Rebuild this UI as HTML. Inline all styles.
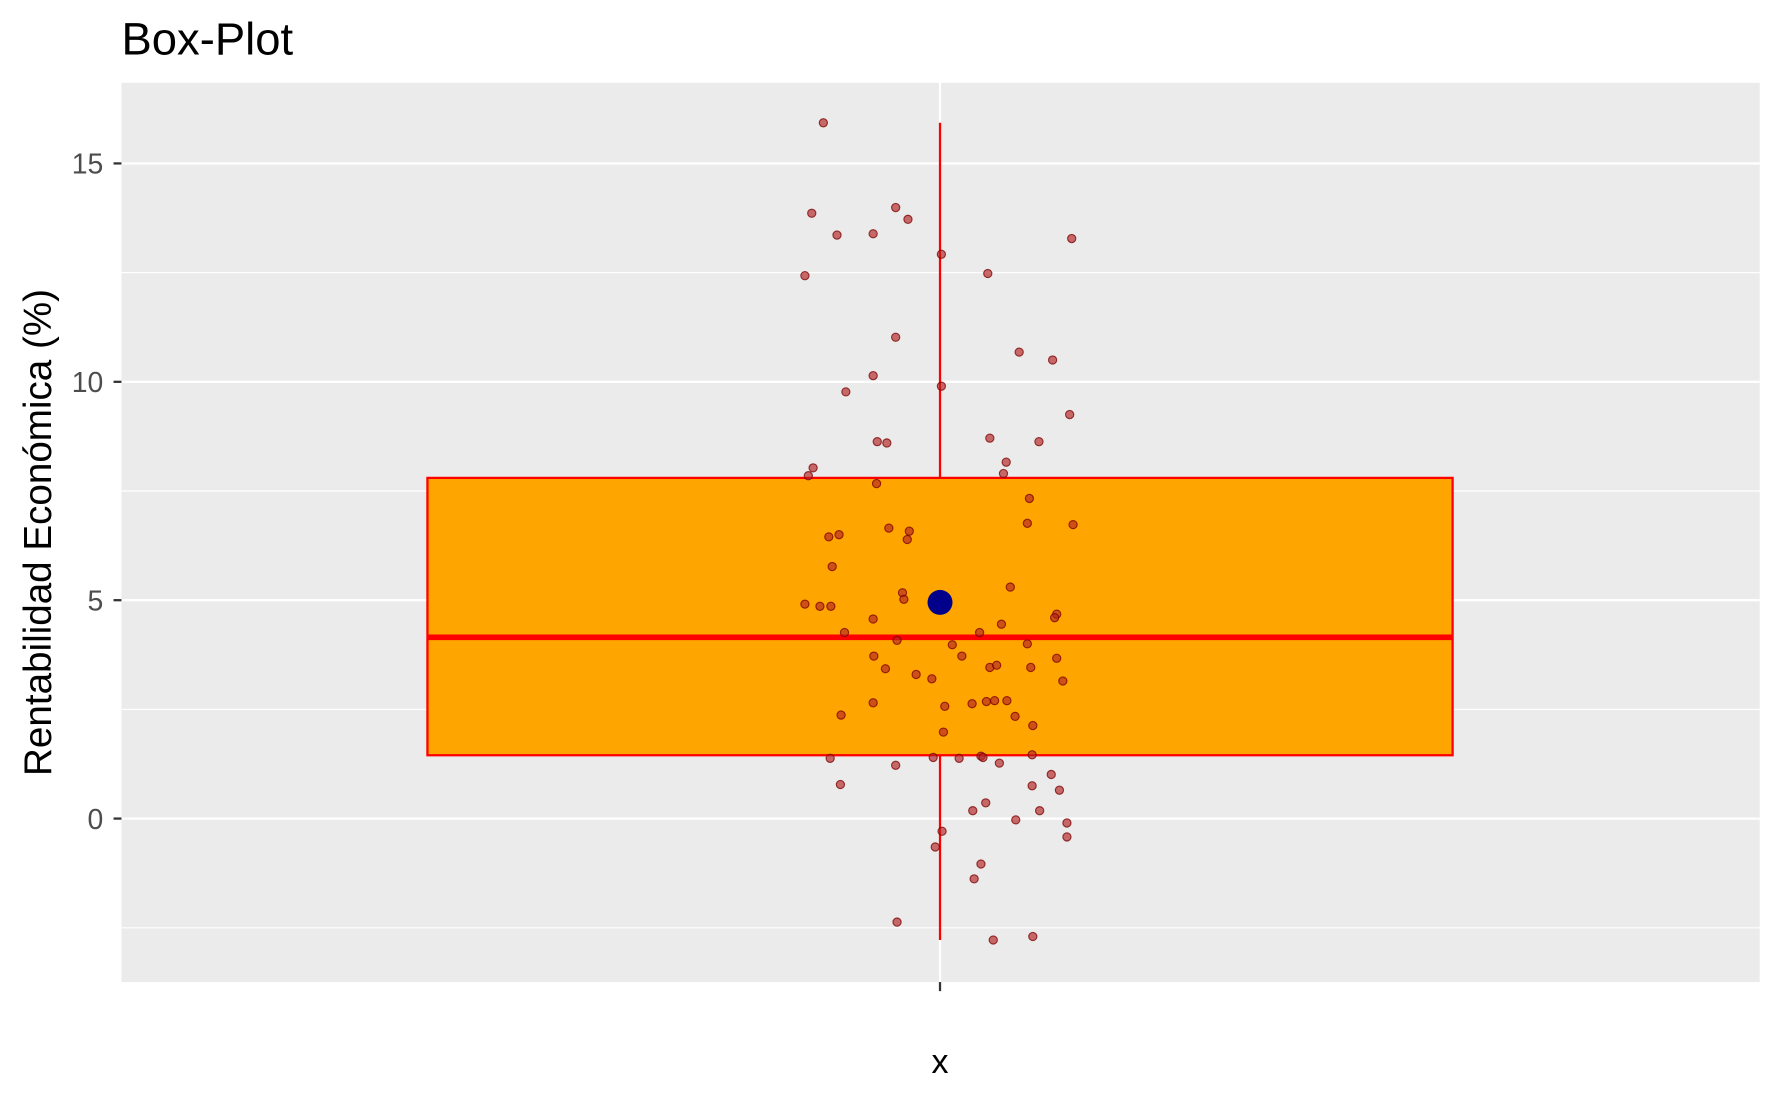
<!DOCTYPE html>
<html><head><meta charset="utf-8"><style>
html,body{margin:0;padding:0;background:#fff;}
svg{display:block;}
text{font-family:"Liberation Sans",Arial,sans-serif;}
</style></head><body>
<svg id="chart" width="1779" height="1099" viewBox="0 0 1567 968" preserveAspectRatio="none" xmlns="http://www.w3.org/2000/svg"></svg>
<script>
const yTicks=[0,5,10,15];
const yTickLabels=["0","5","10","15"];
const yMinor=[-2.5,2.5,7.5,12.5];
const categories=["x"];
const boxStats=[-2.78,1.45,4.15,7.8,15.93]; // min,q1,median,q3,max
const meanValue=4.95;
const pointValues=[15.93,13.86,13.36,13.39,13.99,13.72,13.28,12.43,12.92,12.48,11.02,10.68,10.50,10.14,9.77,9.90,9.25,8.63,8.60,8.71,8.63,8.16,8.03,7.85,7.90,7.67,7.33,6.45,6.50,6.65,6.58,6.39,6.76,6.73,5.77,5.17,5.02,4.91,4.86,4.86,5.30,4.57,4.68,4.60,4.45,4.26,4.26,4.08,3.98,4.00,3.72,3.72,3.67,3.43,3.46,3.51,3.46,3.30,3.20,3.15,2.57,2.65,2.63,2.68,2.70,2.70,2.37,2.34,2.13,1.98,1.38,1.40,1.38,1.43,1.40,1.46,1.22,1.27,1.01,0.78,0.75,0.65,0.36,0.18,0.18,-0.03,-0.10,-0.29,-0.42,-0.65,-1.04,-1.38,-2.37,-2.78,-2.70];
const pointJitter=[-0.171,-0.188,-0.151,-0.098,-0.065,-0.047,0.193,-0.198,0.002,0.07,-0.065,0.116,0.165,-0.098,-0.138,0.002,0.19,-0.092,-0.078,0.073,0.145,0.097,-0.186,-0.193,0.093,-0.093,0.131,-0.163,-0.148,-0.075,-0.045,-0.048,0.128,0.195,-0.158,-0.055,-0.053,-0.198,-0.176,-0.16,0.103,-0.098,0.171,0.168,0.09,-0.14,0.058,-0.063,0.018,0.128,-0.097,0.032,0.171,-0.08,0.073,0.083,0.133,-0.035,-0.012,0.18,0.007,-0.098,0.047,0.068,0.08,0.098,-0.145,0.11,0.136,0.005,-0.161,-0.01,0.028,0.06,0.063,0.135,-0.065,0.087,0.163,-0.146,0.135,0.175,0.067,0.048,0.146,0.111,0.186,0.003,0.186,-0.007,0.06,0.05,-0.063,0.078,0.136];

const svg=document.getElementById('chart');
const NS='http://www.w3.org/2000/svg';
const P={l:107,r:1550,t:73,b:865};
const y=v=>721-38.47*v;
const x=u=>828+601*(u-1);
function mk(tag,attrs,parent){const e=document.createElementNS(NS,tag);for(const k in attrs)e.setAttribute(k,attrs[k]);(parent||svg).appendChild(e);return e;}

const title=mk('text',{x:107,y:48,'font-size':40,fill:'#000'});title.textContent='Box-Plot';



const panel=mk('rect',{x:P.l,y:P.t,width:P.r-P.l,height:P.b-P.t,fill:'#ebebeb'});



yMinor.forEach(v=>{const g=mk('line',{x1:P.l,x2:P.r,y1:y(v),y2:y(v),stroke:'#fff','stroke-width':1});

});
yTicks.forEach((v,i)=>{const g=mk('line',{x1:P.l,x2:P.r,y1:y(v),y2:y(v),stroke:'#fff','stroke-width':2});


const t=mk('line',{x1:P.l-7,x2:P.l,y1:y(v),y2:y(v),stroke:'#333','stroke-width':2});


const l=mk('text',{x:P.l-16,y:y(v)+9,'font-size':25,fill:'#4d4d4d','text-anchor':'end'});l.textContent=yTickLabels[i];

});
categories.forEach((c,i)=>{const cx=x(i+1);
const g=mk('line',{x1:cx,x2:cx,y1:P.t,y2:P.b,stroke:'#fff','stroke-width':2});


const t=mk('line',{x1:cx,x2:cx,y1:P.b,y2:P.b+8,stroke:'#333','stroke-width':2});


const l=mk('text',{x:cx,y:945,'font-size':30,fill:'#000','text-anchor':'middle'});l.textContent=c;

});

const yt=mk('text',{x:0,y:0,'font-size':34,fill:'#000','text-anchor':'middle',transform:'translate(45,469) rotate(-90)'});yt.textContent='Rentabilidad Económica (%)';



const cx=x(1),hw=451.5;
const wh=mk('line',{x1:cx,x2:cx,y1:y(boxStats[0]),y2:y(boxStats[4]),stroke:'#ff0000','stroke-width':2});


const box=mk('rect',{x:cx-hw,y:y(boxStats[3]),width:2*hw,height:y(boxStats[1])-y(boxStats[3]),fill:'#ffa500',stroke:'#ff0000','stroke-width':2});


const med=mk('line',{x1:cx-hw,x2:cx+hw,y1:y(boxStats[2]),y2:y(boxStats[2]),stroke:'#ff0000','stroke-width':5});



pointValues.forEach((v,i)=>{const p=mk('circle',{cx:x(1+pointJitter[i]),cy:y(v),r:3.6,fill:'rgba(178,34,34,0.65)',stroke:'rgba(120,0,0,0.75)','stroke-width':1});

});

const mean=mk('circle',{cx:cx,cy:y(meanValue),r:11,fill:'#00008b'});


</script>
</body></html>
